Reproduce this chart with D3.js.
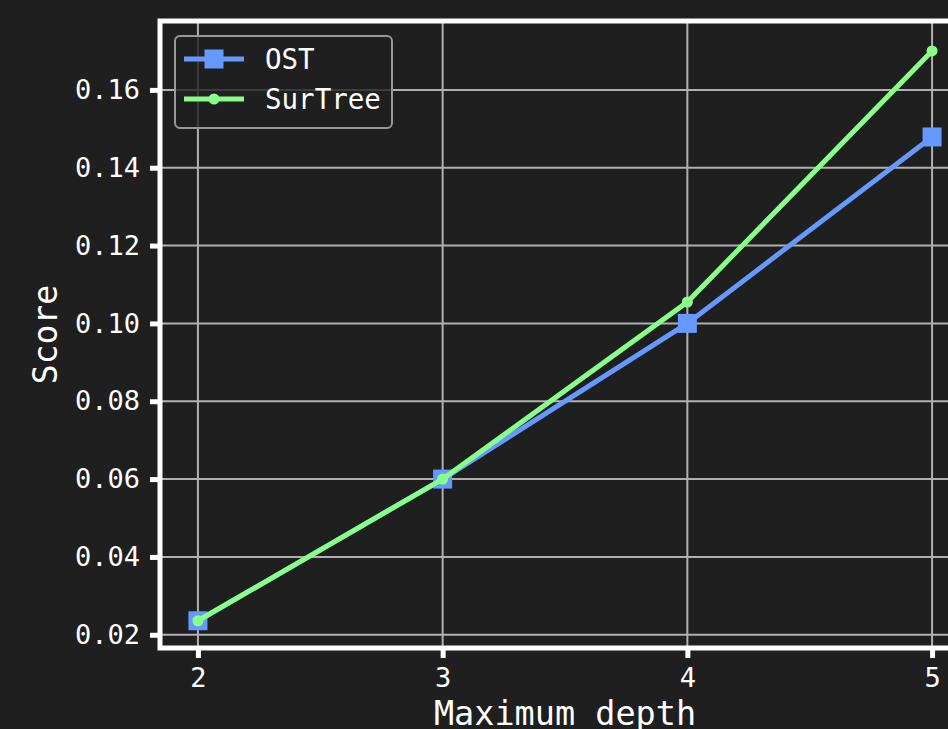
<!DOCTYPE html>
<html>
<head>
<meta charset="utf-8">
<script src="https://cdn.jsdelivr.net/npm/d3@7"></script>
<style>
  body { margin: 0; background: #1f1f1f; }
  text { font-family: "DejaVu Sans Mono", monospace; fill: #ffffff; }
</style>
</head>
<body>
<div id="chart"></div>
<script>
// Data
var depths = [2, 3, 4, 5];
var ostScores = [0.0236, 0.0600, 0.1000, 0.1479];
var surTreeScores = [0.0236, 0.0600, 0.1055, 0.1700];
var yTicks = [0.02, 0.04, 0.06, 0.08, 0.10, 0.12, 0.14, 0.16];

var width = 948;
var height = 729;

// Plot area (right edge runs past the window)
var plotLeft = 160, plotRight = 970, plotTop = 21, plotBottom = 648;

var svg = d3.select("#chart")
  .append("svg")
  .attr("width", width)
  .attr("height", height);

svg.append("rect")
  .attr("width", width)
  .attr("height", height)
  .attr("fill", "#1f1f1f");

var xScale = d3.scaleLinear().domain([1.845, 5.155]).range([plotLeft, plotRight]);
var yScale = d3.scaleLinear().domain([0.0166, 0.1777]).range([plotBottom, plotTop]);

// Grid lines
var grid = svg.append("g").attr("class", "grid");
grid.selectAll("line.gx")
  .data(depths)
  .enter()
  .append("line")
  .attr("x1", function(d) { return xScale(d); })
  .attr("x2", function(d) { return xScale(d); })
  .attr("y1", plotTop)
  .attr("y2", plotBottom)
  .attr("stroke", "#b0b0b0")
  .attr("stroke-width", 2);
grid.selectAll("line.gy")
  .data(yTicks)
  .enter()
  .append("line")
  .attr("y1", function(d) { return yScale(d); })
  .attr("y2", function(d) { return yScale(d); })
  .attr("x1", plotLeft)
  .attr("x2", plotRight)
  .attr("stroke", "#b0b0b0")
  .attr("stroke-width", 2);

// Axes
var xAxis = d3.axisBottom(xScale)
  .tickValues(depths)
  .tickFormat(d3.format("d"))
  .tickSize(10)
  .tickPadding(10);
var yAxis = d3.axisLeft(yScale)
  .tickValues(yTicks)
  .tickFormat(d3.format(".2f"))
  .tickSize(10)
  .tickPadding(10);

var gx = svg.append("g")
  .attr("transform", "translate(0," + plotBottom + ")")
  .call(xAxis);
var gy = svg.append("g")
  .attr("transform", "translate(" + plotLeft + ",0)")
  .call(yAxis);

[gx, gy].forEach(function(g) {
  g.select(".domain").remove();
  g.selectAll(".tick line").attr("stroke", "#ffffff").attr("stroke-width", 5);
  g.selectAll(".tick text")
    .attr("fill", "#ffffff")
    .style("font-size", "27px")
    .style("font-family", "'DejaVu Sans Mono', monospace");
});

// Lines and markers
var line = d3.line()
  .x(function(d, i) { return xScale(depths[i]); })
  .y(function(d) { return yScale(d); });

svg.append("path")
  .datum(ostScores)
  .attr("d", line)
  .attr("fill", "none")
  .attr("stroke", "#6699ff")
  .attr("stroke-width", 5);

svg.selectAll("rect.ost")
  .data(ostScores)
  .enter()
  .append("rect")
  .attr("class", "ost")
  .attr("x", function(d, i) { return xScale(depths[i]) - 9.5; })
  .attr("y", function(d) { return yScale(d) - 9.5; })
  .attr("width", 19)
  .attr("height", 19)
  .attr("fill", "#6699ff");

svg.append("path")
  .datum(surTreeScores)
  .attr("d", line)
  .attr("fill", "none")
  .attr("stroke", "#88ff88")
  .attr("stroke-width", 5);

svg.selectAll("circle.sur")
  .data(surTreeScores)
  .enter()
  .append("circle")
  .attr("class", "sur")
  .attr("cx", function(d, i) { return xScale(depths[i]); })
  .attr("cy", function(d) { return yScale(d); })
  .attr("r", 5.5)
  .attr("fill", "#88ff88");

// Spines: left, bottom, top
svg.append("path")
  .attr("d", "M" + plotRight + "," + plotTop + "H" + plotLeft + "V" + plotBottom + "H" + plotRight)
  .attr("fill", "none")
  .attr("stroke", "#ffffff")
  .attr("stroke-width", 5);

// Axis labels
svg.append("text")
  .attr("x", (plotLeft + plotRight) / 2)
  .attr("y", 725)
  .attr("text-anchor", "middle")
  .style("font-size", "33.5px")
  .text("Maximum depth");

svg.append("text")
  .attr("transform", "translate(57," + ((plotTop + plotBottom) / 2) + ") rotate(-90)")
  .attr("text-anchor", "middle")
  .style("font-size", "33px")
  .text("Score");

// Legend
var legend = svg.append("g").attr("transform", "translate(175,36)");
legend.append("rect")
  .attr("width", 217)
  .attr("height", 92)
  .attr("rx", 5)
  .attr("fill", "#1f1f1f")
  .attr("fill-opacity", 0.8)
  .attr("stroke", "#999999")
  .attr("stroke-width", 2);

var legendItems = [
  { name: "OST", color: "#6699ff", marker: "square" },
  { name: "SurTree", color: "#88ff88", marker: "circle" }
];
legendItems.forEach(function(item, i) {
  var y = 23 + i * 40;
  legend.append("line")
    .attr("x1", 9).attr("x2", 69)
    .attr("y1", y).attr("y2", y)
    .attr("stroke", item.color)
    .attr("stroke-width", 5);
  if (item.marker === "square") {
    legend.append("rect")
      .attr("x", 29.5).attr("y", y - 9.5)
      .attr("width", 19).attr("height", 19)
      .attr("fill", item.color);
  } else {
    legend.append("circle")
      .attr("cx", 39).attr("cy", y)
      .attr("r", 5.5)
      .attr("fill", item.color);
  }
  legend.append("text")
    .attr("x", 90)
    .attr("y", y + 10)
    .style("font-size", "27.5px")
    .text(item.name);
});
</script>
</body>
</html>
